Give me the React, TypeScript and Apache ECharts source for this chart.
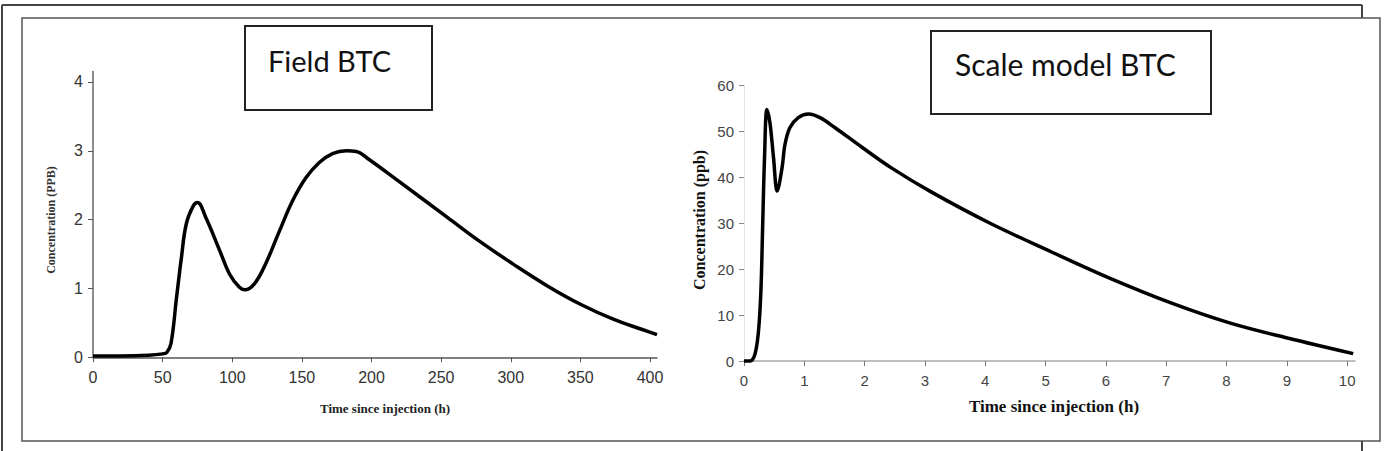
import React, { useEffect, useRef } from "react";
import * as echarts from "echarts";

// Field BTC (left panel)
const fieldTimeH = [0, 20, 40, 50, 53, 56, 60, 63.5, 67, 72, 75, 81, 91, 98, 105, 109, 116, 124, 134, 143.5, 153, 162.5, 172, 182, 189, 198.5, 218, 254, 278, 302, 326, 350, 374, 395, 405];
const fieldConcPPB = [0.02, 0.02, 0.03, 0.05, 0.07, 0.2, 0.87, 1.45, 1.94, 2.2, 2.25, 2.03, 1.55, 1.21, 1.02, 0.98, 1.07, 1.36, 1.84, 2.28, 2.61, 2.83, 2.96, 3.0, 2.99, 2.87, 2.58, 2.04, 1.68, 1.35, 1.04, 0.77, 0.55, 0.4, 0.33];
const fieldXTicks = [0, 50, 100, 150, 200, 250, 300, 350, 400];
const fieldYTicks = [0, 1, 2, 3, 4];

// Scale model BTC (right panel)
const modelTimeH = [0, 0.1, 0.18, 0.24, 0.28, 0.31, 0.34, 0.38, 0.43, 0.49, 0.55, 0.63, 0.68, 0.76, 0.9, 1.07, 1.26, 1.51, 1.95, 2.45, 3.08, 4.08, 5.09, 6.07, 7.09, 8.05, 9.01, 10.1];
const modelConcPPB = [0, 0, 1.4, 6.5, 15.2, 29.7, 44.2, 54.8, 51.9, 44.2, 37.0, 42.0, 47.2, 50.8, 53.0, 53.8, 53.0, 50.8, 46.6, 42.0, 37.0, 30.0, 23.8, 18.0, 12.6, 8.3, 5.0, 1.6];
const modelXTicks = [0, 1, 2, 3, 4, 5, 6, 7, 8, 9, 10];
const modelYTicks = [0, 10, 20, 30, 40, 50, 60];

const leftTitle = "Field BTC";
const rightTitle = "Scale model BTC";
const xTitle = "Time since injection (h)";
const leftYTitle = "Concentration (PPB)";
const rightYTitle = "Concentration (ppb)";

const NARROW = "'Liberation Sans Narrow', 'Arial Narrow', 'Liberation Sans', Arial, sans-serif";
const SANS = "'Liberation Sans', Arial, sans-serif";
const SERIF = "'Liberation Serif', 'Times New Roman', serif";
const CAL = "Lato, 'Open Sans', sans-serif";

export default function App() {
  const ref = useRef<HTMLDivElement>(null);
  useEffect(() => {
    if (!ref.current) return;
    const chart = echarts.init(ref.current, undefined, { renderer: "svg" });
    const frame = { stroke: "#444", lineWidth: 2 };
    const option: any = {
      animation: false,
      backgroundColor: "#fff",
      grid: [
        { left: 93, top: 71.6, width: 564, height: 285.7, containLabel: false, outerBoundsMode: "none" },
        { left: 744, top: 85.5, width: 611, height: 275.5, containLabel: false, outerBoundsMode: "none" },
      ],
      xAxis: [
        {
          type: "value", gridIndex: 0, min: 0, max: 405,
          axisLine: { show: true, lineStyle: { color: "#555", width: 1.5 } },
          axisTick: { show: true, length: 5, customValues: fieldXTicks, lineStyle: { color: "#555" } },
          axisLabel: { customValues: fieldXTicks, fontFamily: NARROW, fontSize: 16, color: "#333", margin: 12 },
          splitLine: { show: false },
        },
        {
          type: "value", gridIndex: 1, min: 0, max: 10.13,
          axisLine: { show: true, lineStyle: { color: "#aaa", width: 1.5 } },
          axisTick: { show: true, length: 5, customValues: modelXTicks, lineStyle: { color: "#777" } },
          axisLabel: { customValues: modelXTicks, fontFamily: SANS, fontSize: 15, color: "#444", margin: 12 },
          splitLine: { show: false },
        },
      ],
      yAxis: [
        {
          type: "value", gridIndex: 0, min: 0, max: 4.15,
          axisLine: { show: true, lineStyle: { color: "#666", width: 1.5 } },
          axisTick: { show: true, length: 5, customValues: fieldYTicks, lineStyle: { color: "#555" } },
          axisLabel: { customValues: fieldYTicks, fontFamily: NARROW, fontSize: 16, color: "#333", margin: 10 },
          splitLine: { show: false },
        },
        {
          type: "value", gridIndex: 1, min: 0, max: 60,
          axisLine: { show: true, lineStyle: { color: "#e2e2e2", width: 1 } },
          axisTick: { show: true, length: 5, customValues: modelYTicks, lineStyle: { color: "#888" } },
          axisLabel: { customValues: modelYTicks, fontFamily: SANS, fontSize: 15, color: "#444", margin: 10 },
          splitLine: { show: false },
        },
      ],
      series: [
        {
          type: "line", xAxisIndex: 0, yAxisIndex: 0, showSymbol: false, smooth: 0.4, clip: false,
          lineStyle: { color: "#000", width: 3.5 },
          data: fieldTimeH.map((t, i) => [t, fieldConcPPB[i]]),
        },
        {
          type: "line", xAxisIndex: 1, yAxisIndex: 1, showSymbol: false, smooth: 0.35, clip: false,
          lineStyle: { color: "#000", width: 3.5 },
          data: modelTimeH.map((t, i) => [t, modelConcPPB[i]]),
        },
      ],
      graphic: [
        // outer frame (partly hidden behind inner box)
        { type: "line", shape: { x1: 2, y1: 5, x2: 1362, y2: 5 }, style: frame },
        { type: "line", shape: { x1: 2, y1: 5, x2: 2, y2: 451 }, style: frame },
        { type: "line", shape: { x1: 1362, y1: 5, x2: 1362, y2: 18 }, style: frame },
        { type: "line", shape: { x1: 1362, y1: 441, x2: 1362, y2: 451 }, style: frame },
        // inner box
        { type: "rect", shape: { x: 22, y: 18, width: 1358, height: 423 }, style: { fill: "none", stroke: "#555", lineWidth: 1.5 } },
        // title boxes
        { type: "rect", shape: { x: 245, y: 26, width: 187, height: 84 }, style: { fill: "#fff", stroke: "#222", lineWidth: 2 } },
        { type: "text", x: 268, y: 60, style: { text: leftTitle, font: `29px ${CAL}`, fill: "#111", textAlign: "left", textVerticalAlign: "middle" } },
        { type: "rect", shape: { x: 931, y: 31, width: 280, height: 83 }, style: { fill: "#fff", stroke: "#222", lineWidth: 2 } },
        { type: "text", x: 955, y: 64, style: { text: rightTitle, font: `30px ${CAL}`, fill: "#111", textAlign: "left", textVerticalAlign: "middle" } },
        // axis titles
        { type: "text", x: 385, y: 408, style: { text: xTitle, font: `bold 13px ${SERIF}`, fill: "#222", textAlign: "center", textVerticalAlign: "middle" } },
        { type: "text", x: 51, y: 220, rotation: Math.PI / 2, style: { text: leftYTitle, font: `bold 12px ${SERIF}`, fill: "#333", textAlign: "center", textVerticalAlign: "middle" } },
        { type: "text", x: 1054, y: 406, style: { text: xTitle, font: `bold 17px ${SERIF}`, fill: "#111", textAlign: "center", textVerticalAlign: "middle" } },
        { type: "text", x: 699, y: 220, rotation: Math.PI / 2, style: { text: rightYTitle, font: `bold 16px ${SERIF}`, fill: "#111", textAlign: "center", textVerticalAlign: "middle" } },
      ],
    };
    chart.setOption(option);
    return () => chart.dispose();
  }, []);
  return <div ref={ref} style={{ position: "fixed", left: 0, top: 0, width: 1388, height: 451 }} />;
}
